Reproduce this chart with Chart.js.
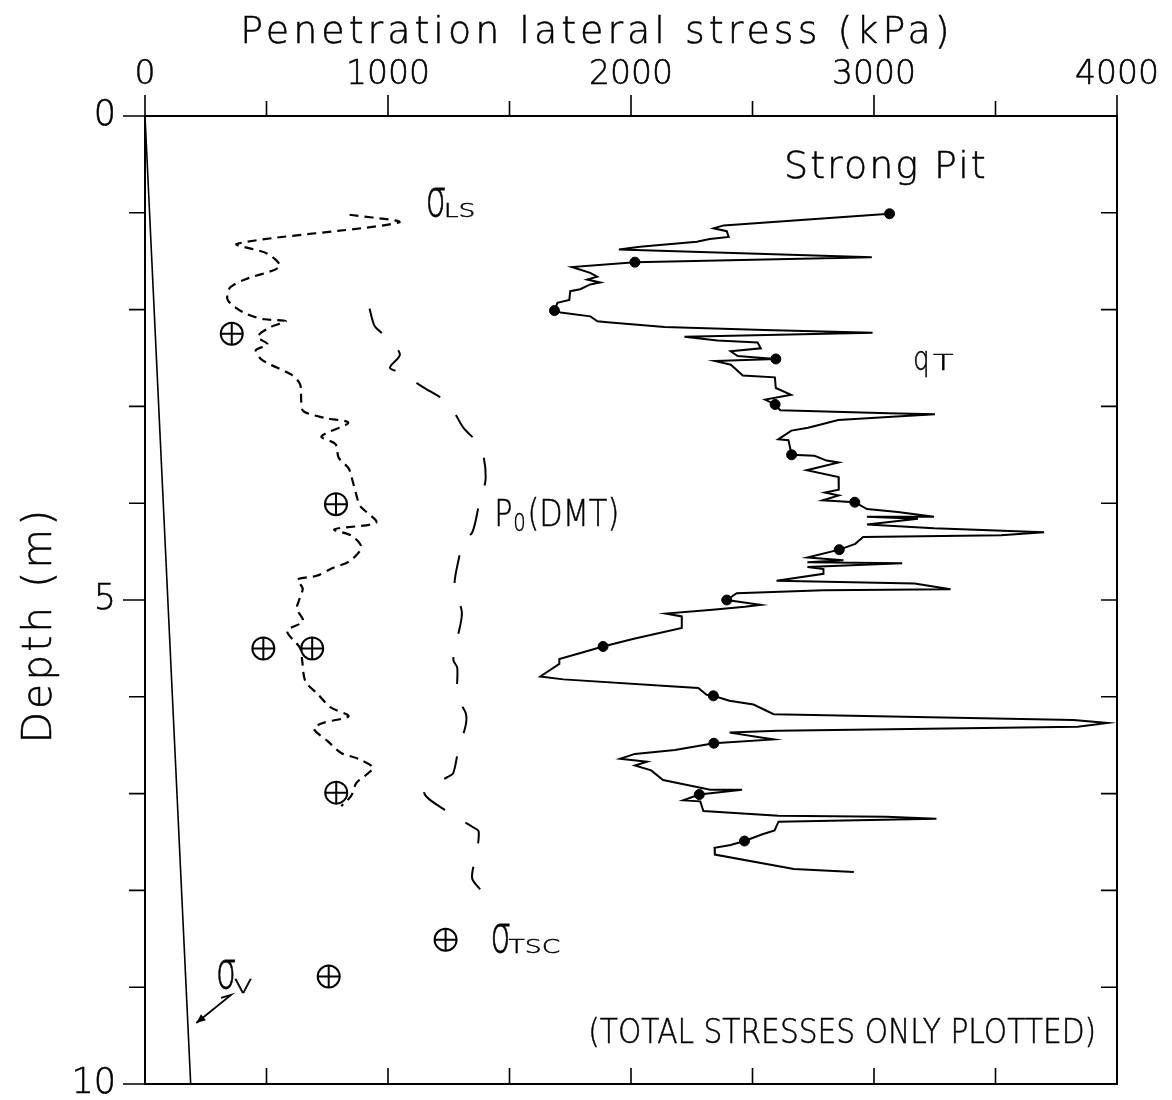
<!DOCTYPE html>
<html>
<head>
<meta charset="utf-8">
<title>Strong Pit - penetration lateral stress</title>
<script src="https://cdn.jsdelivr.net/npm/chart.js@4.4.1/dist/chart.umd.min.js"></script>
<style>
  html, body { margin: 0; padding: 0; background: #fff; }
  #wrap { width: 1172px; height: 1100px; }
</style>
</head>
<body>
<div id="wrap"><canvas id="depthChart"></canvas></div>
<script>
// Axis ticks
const xTickLabels = [0, 1000, 2000, 3000, 4000];
const xMinorStep = 500;
const depthTickLabels = [0, 5, 10];
const depthMinorStep = 1;

// qT (kPa) against depth (m)
const qtDepth = [1.01, 1.13, 1.16, 1.19, 1.25, 1.27, 1.30, 1.35, 1.38, 1.46,
  1.51, 1.56, 1.62, 1.66, 1.69, 1.72, 1.74, 1.79, 1.81, 1.90,
  1.93, 2.01, 2.03, 2.07, 2.12, 2.13, 2.18, 2.21, 2.24, 2.28,
  2.32, 2.34, 2.40, 2.43, 2.48, 2.51, 2.53, 2.57, 2.68, 2.70,
  2.81, 2.88, 2.93, 2.98, 3.04, 3.07, 3.08, 3.11, 3.14, 3.22,
  3.25, 3.34, 3.35, 3.50, 3.51, 3.56, 3.58, 3.66, 3.73, 3.86,
  3.89, 3.92, 3.97, 3.99, 4.06, 4.09, 4.14, 4.14, 4.16, 4.22,
  4.26, 4.30, 4.33, 4.35, 4.42, 4.48, 4.56, 4.59, 4.61, 4.62,
  4.66, 4.68, 4.73, 4.80, 4.83, 4.89, 4.90, 4.93, 5.00, 5.05,
  5.07, 5.10, 5.14, 5.17, 5.29, 5.40, 5.48, 5.54, 5.61, 5.66,
  5.79, 5.82, 5.89, 5.91, 5.98, 5.99, 6.04, 6.08, 6.18, 6.24,
  6.27, 6.31, 6.35, 6.37, 6.44, 6.48, 6.55, 6.59, 6.64, 6.67,
  6.71, 6.76, 6.86, 6.96, 6.96, 7.01, 7.07, 7.08, 7.18, 7.23,
  7.24, 7.26, 7.29, 7.38, 7.42, 7.49, 7.53, 7.56, 7.63, 7.78,
  7.81];
const qtStress = [3064, 2381, 2340, 2394, 2402, 2324, 2271, 2037, 1950, 2991,
  2016, 1757, 1832, 1861, 1820, 1873, 1832, 1791, 1750, 1746,
  1697, 1685, 1710, 1833, 1862, 1903, 2138, 2549, 2994, 2220,
  2356, 2521, 2534, 2410, 2439, 2596, 2345, 2411, 2460, 2592,
  2596, 2659, 2552, 2593, 2614, 3060, 3251, 3058, 2853, 2729,
  2660, 2606, 2648, 2661, 2755, 2805, 2854, 2723, 2854, 2855,
  2798, 2855, 2789, 2921, 2971, 3098, 3247, 2971, 3181, 2971,
  3247, 3700, 3523, 2955, 2923, 2857, 2726, 2874, 2726, 3116,
  2726, 2792, 2792, 2599, 3167, 3315, 2792, 2435, 2394, 2534,
  2468, 2336, 2143, 2209, 2209, 2012, 1885, 1803, 1705, 1705,
  1627, 1722, 2162, 2277, 2311, 2339, 2405, 2504, 2587, 3821,
  3961, 3838, 2604, 2406, 2587, 2341, 2181, 2016, 1955, 2066,
  2016, 2083, 2132, 2326, 2457, 2281, 2215, 2285, 2298, 2607,
  3051, 3257, 2607, 2591, 2541, 2467, 2410, 2344, 2345, 2670,
  2917];

// qT readings marked with a dot every 0.5 m
const qtDotDepth = [1.01, 1.51, 2.01, 2.51, 2.98, 3.50, 3.99, 4.48, 5.00, 5.48, 5.99, 6.48, 7.01, 7.49];
const qtDotStress = [3064, 2016, 1685, 2596, 2593, 2661, 2921, 2857, 2394, 1885, 2339, 2341, 2281, 2467];

// sigma LS (short dashes)
const lsDepth = [1.02, 1.10, 1.32, 1.42, 1.54, 1.59, 1.68, 1.77, 1.89, 1.97,
  2.05, 2.10, 2.12, 2.18, 2.28, 2.36, 2.42, 2.51, 2.57, 2.67,
  2.77, 2.95, 3.05, 3.12, 3.17, 3.31, 3.39, 3.53, 3.64, 3.74,
  4.01, 4.05, 4.20, 4.27, 4.34, 4.46, 4.60, 4.67, 4.75, 4.79,
  4.88, 4.98, 5.09, 5.22, 5.32, 5.50, 5.63, 5.84, 5.97, 6.11,
  6.20, 6.27, 6.33, 6.46, 6.58, 6.64, 6.73, 6.79, 6.89, 7.02,
  7.13];
const lsStress = [842, 1044, 379, 502, 556, 532, 421, 351, 339, 368,
  422, 492, 579, 517, 464, 505, 456, 477, 518, 601,
  638, 643, 652, 742, 837, 726, 784, 797, 838, 851,
  881, 893, 951, 779, 853, 890, 841, 772, 706, 628,
  649, 637, 625, 650, 585, 639, 647, 660, 710, 764,
  838, 732, 695, 753, 807, 877, 939, 918, 870, 849,
  808];

// P0 (DMT) (long dashes)
const p0Depth = [1.99, 2.17, 2.25, 2.46, 2.60, 2.65, 2.80, 2.97, 3.22, 3.42,
  3.74, 4.02, 4.30, 4.40, 4.54, 4.85, 5.13, 5.41, 5.62, 5.70,
  6.00, 6.17, 6.29, 6.57, 6.79, 6.83, 6.99, 7.20, 7.35, 7.39,
  7.61, 7.87, 7.99];
const p0Stress = [924, 945, 978, 1049, 1008, 1049, 1144, 1248, 1310, 1381,
  1402, 1374, 1347, 1306, 1294, 1274, 1304, 1284, 1269, 1285,
  1286, 1320, 1320, 1288, 1268, 1244, 1149, 1253, 1352, 1373,
  1365, 1346, 1379];

// sigma TSC readings
const tscDepth = [2.25, 4.01, 5.50, 5.50, 6.99, 8.51, 8.89];
const tscStress = [357, 786, 487, 688, 787, 1237, 756];

// sigma V (total overburden)
const svDepth = [0, 10];
const svStress = [0, 188];

function toPoints(stress, depth) {
  return stress.map((v, i) => ({ x: v, y: depth[i] }));
}

const FONT = '"DejaVu Sans"';

// thin plotter-like text: light face with a hairline stroke
function penText(ctx, str, px, py, stroke) {
  ctx.fillText(str, px, py);
  ctx.lineWidth = stroke || 0.5;
  ctx.strokeText(str, px, py);
}

// narrow tall sigma with a wide subscript
function drawSigma(ctx, px, py, sub, subDrop) {
  ctx.save();
  ctx.translate(px, py);
  ctx.scale(0.95, 1.5);
  ctx.font = '300 34px ' + FONT;
  penText(ctx, "σ", 0, 0, 0.5);
  ctx.restore();
  ctx.save();
  ctx.translate(px + 18, py + (subDrop || 1));
  ctx.scale(1.4, 1);
  ctx.font = '300 19px ' + FONT;
  penText(ctx, sub, 0, 0, 0.5);
  ctx.restore();
}

const decor = {
  id: "decor",
  afterDraw(chart) {
    const { ctx, chartArea: a, scales } = chart;
    const xs = scales.x;
    const ys = scales.y;
    const X = (v) => xs.getPixelForValue(v);
    const Y = (d) => ys.getPixelForValue(d);

    ctx.save();
    ctx.strokeStyle = "#000";
    ctx.fillStyle = "#000";

    // frame
    ctx.lineWidth = 2;
    ctx.strokeRect(a.left, a.top, a.right - a.left, a.bottom - a.top);

    // tick marks: outward on top and left, inward on bottom and right
    ctx.lineWidth = 1.6;
    ctx.beginPath();
    for (let v = xs.min; v <= xs.max; v += xMinorStep) {
      const px = X(v);
      const len = xTickLabels.includes(v) ? 21 : 15;
      ctx.moveTo(px, a.top);
      ctx.lineTo(px, a.top - len);
      if (v > xs.min && v < xs.max) {
        ctx.moveTo(px, a.bottom);
        ctx.lineTo(px, a.bottom - 16);
      }
    }
    for (let d = ys.min; d <= ys.max; d += depthMinorStep) {
      const py = Y(d);
      const len = depthTickLabels.includes(d) ? 22 : 16;
      ctx.moveTo(a.left, py);
      ctx.lineTo(a.left - len, py);
      if (d > ys.min && d < ys.max) {
        ctx.moveTo(a.right, py);
        ctx.lineTo(a.right - 16, py);
      }
    }
    ctx.stroke();

    // axis titles
    ctx.textBaseline = "alphabetic";
    ctx.textAlign = "center";
    ctx.font = '300 38px ' + FONT;
    ctx.letterSpacing = "4px";
    penText(ctx, "Penetration lateral stress (kPa)", X(1860), a.top - 73);
    ctx.save();
    ctx.translate(51, Y(5.26));
    ctx.rotate(-Math.PI / 2);
    ctx.font = '300 41px ' + FONT;
    ctx.letterSpacing = "3px";
    penText(ctx, "Depth (m)", 0, 0);
    ctx.restore();

    // annotations
    ctx.textAlign = "left";
    ctx.font = '300 38px ' + FONT;
    ctx.letterSpacing = "2px";
    penText(ctx, "Strong Pit", X(2630), Y(0.64));
    ctx.letterSpacing = "0px";

    drawSigma(ctx, X(1155), Y(1.03), "LS");
    drawSigma(ctx, X(1422), Y(8.64), "TSC");
    drawSigma(ctx, X(292), Y(9.01), "V", 5);

    const qx = X(3160), qy = Y(2.62);
    ctx.save();
    ctx.translate(qx, qy);
    ctx.scale(0.8, 1);
    ctx.font = '300 33px ' + FONT;
    penText(ctx, "q", 0, 0);
    ctx.restore();
    ctx.save();
    ctx.translate(qx + 20, qy);
    ctx.scale(1.6, 1);
    ctx.font = '300 21px ' + FONT;
    penText(ctx, "T", 0, 0);
    ctx.restore();

    const p0x = X(1437), p0y = Y(4.24);
    ctx.save();
    ctx.translate(p0x, p0y);
    ctx.scale(0.82, 1);
    ctx.font = '300 37px ' + FONT;
    penText(ctx, "P", 0, 0);
    const pw = ctx.measureText("P").width;
    ctx.font = '300 24px ' + FONT;
    penText(ctx, "0", pw + 1, 5);
    const zw = ctx.measureText("0").width;
    ctx.font = '300 37px ' + FONT;
    penText(ctx, "(DMT)", pw + zw + 3, 0);
    ctx.restore();

    ctx.save();
    ctx.translate(X(1824), Y(9.58));
    ctx.scale(0.9, 1);
    ctx.font = '300 33px ' + FONT;
    penText(ctx, "(TOTAL STRESSES ONLY PLOTTED)", 0, 0);
    ctx.restore();

    // arrow to the sigma V line
    const x0 = X(354), y0 = Y(9.08), x1 = X(211), y1 = Y(9.37);
    ctx.lineWidth = 1.8;
    ctx.beginPath();
    ctx.moveTo(x0 - 10, y0 + 3);
    ctx.lineTo(x0, y0);
    ctx.lineTo(x1, y1);
    ctx.stroke();
    const ang = Math.atan2(y1 - y0, x1 - x0);
    ctx.beginPath();
    ctx.moveTo(x1, y1);
    ctx.lineTo(x1 - 10 * Math.cos(ang - 0.4), y1 - 10 * Math.sin(ang - 0.4));
    ctx.lineTo(x1 - 10 * Math.cos(ang + 0.4), y1 - 10 * Math.sin(ang + 0.4));
    ctx.closePath();
    ctx.fill();

    ctx.restore();
  },
};

Chart.defaults.font.family = FONT;
Chart.defaults.color = "#000";

const lineBase = { showLine: true, pointRadius: 0, borderColor: "#000", fill: false };

new Chart(document.getElementById("depthChart"), {
  type: "scatter",
  data: {
    datasets: [
      { ...lineBase, label: "qT", data: toPoints(qtStress, qtDepth), borderWidth: 2, tension: 0 },
      { label: "qT readings", data: toPoints(qtDotStress, qtDotDepth), pointRadius: 5,
        backgroundColor: "#000", borderColor: "#000", showLine: false },
      { label: "σTSC cross", data: toPoints(tscStress, tscDepth), pointStyle: "cross", pointRadius: 11,
        borderColor: "#000", borderWidth: 2, showLine: false },
      { label: "σTSC", data: toPoints(tscStress, tscDepth), pointStyle: "circle", pointRadius: 11,
        backgroundColor: "rgba(0,0,0,0)", borderColor: "#000", borderWidth: 2, showLine: false },
      { ...lineBase, label: "σLS", data: toPoints(lsStress, lsDepth), borderWidth: 2.2,
        borderDash: [9, 6], tension: 0.3 },
      { ...lineBase, label: "P0 (DMT)", data: toPoints(p0Stress, p0Depth), borderWidth: 2,
        borderDash: [28, 24], tension: 0.3 },
      { ...lineBase, label: "σV", data: toPoints(svStress, svDepth), borderWidth: 1.6 },
    ],
  },
  options: {
    responsive: true,
    maintainAspectRatio: false,
    animation: false,
    layout: { padding: { top: 0, left: 0, right: 55, bottom: 16 } },
    plugins: { legend: { display: false }, tooltip: { enabled: false } },
    scales: {
      x: {
        type: "linear",
        position: "top",
        min: 0,
        max: 4000,
        grid: { display: false, drawTicks: false },
        border: { display: false },
        ticks: {
          stepSize: xMinorStep,
          autoSkip: false,
          maxRotation: 0,
          padding: 21,
          font: { size: 33, weight: "300" },
          textStrokeColor: "#000",
          textStrokeWidth: 0.5,
          callback: (v) => (xTickLabels.includes(v) ? String(v) : ""),
        },
        afterFit: (scale) => {
          scale.height = 116;
          scale.paddingLeft = 0;
          scale.paddingRight = 0;
        },
      },
      y: {
        type: "linear",
        reverse: true,
        min: 0,
        max: 10,
        grid: { display: false, drawTicks: false },
        border: { display: false },
        ticks: {
          stepSize: depthMinorStep,
          autoSkip: false,
          padding: 29,
          font: { size: 35, weight: "300" },
          textStrokeColor: "#000",
          textStrokeWidth: 0.5,
          callback: (v) => (depthTickLabels.includes(v) ? String(v) : ""),
        },
        afterFit: (scale) => {
          scale.width = 145;
          scale.paddingTop = 0;
          scale.paddingBottom = 0;
        },
      },
    },
  },
  plugins: [decor],
});
</script>
</body>
</html>
